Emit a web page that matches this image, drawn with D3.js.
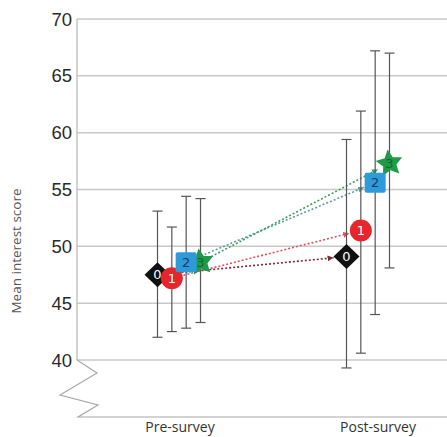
<!DOCTYPE html>
<html>
<head>
<meta charset="utf-8">
<script src="https://cdn.jsdelivr.net/npm/d3@7"></script>
<style>
  body { margin: 0; background: #fff; }
  svg { display: block; }
</style>
</head>
<body>
<div id="chart"></div>
<script>
  // Données
  var surveys = ["Pre-survey", "Post-survey"];
  var groups = ["0", "1", "2", "3"];
  var yTicks = [40, 45, 50, 55, 60, 65, 70];
  // moyennes [pre, post] pour chaque groupe
  var means = [
    [47.5, 49.1],
    [47.2, 51.4],
    [48.6, 55.6],
    [48.6, 57.3]
  ];
  var lows = [
    [42.0, 39.3],
    [42.5, 40.6],
    [42.8, 44.0],
    [43.3, 48.1]
  ];
  var highs = [
    [53.1, 59.4],
    [51.7, 61.9],
    [54.4, 67.2],
    [54.2, 67.0]
  ];

  var width = 447, height = 437;
  var svg = d3.select("#chart").append("svg")
    .attr("width", width).attr("height", height);

  var left = 77;
  var y = d3.scaleLinear().domain([40, 70]).range([360, 19]);
  var x = d3.scalePoint().domain(surveys).range([180, 378]);
  var xOff = d3.scalePoint().domain(groups).range([-21.5, 21.5]);
  var shift = { "Pre-survey": -1, "Post-survey": -10 }; // décalage du groupe de points

  function px(gi, si) { return x(surveys[si]) + shift[surveys[si]] + xOff(groups[gi]); }

  // grille
  svg.append("g").selectAll("line").data(yTicks).enter().append("line")
    .attr("x1", left).attr("x2", width)
    .attr("y1", d => y(d)).attr("y2", d => y(d))
    .attr("stroke", "#c8c8c8").attr("stroke-width", 1.5);

  // axe gauche + zigzag + base
  svg.append("line").attr("x1", left).attr("x2", left)
    .attr("y1", y(70)).attr("y2", y(40))
    .attr("stroke", "#b5b5b5").attr("stroke-width", 1.2);
  svg.append("polyline")
    .attr("points", "77,360 97,373 60,395 98,405 78,417 447,417")
    .attr("fill", "none").attr("stroke", "#a8a8a8").attr("stroke-width", 1.2);

  // graduations
  svg.append("g").selectAll("text").data(yTicks).enter().append("text")
    .attr("x", 72).attr("y", d => y(d)).attr("dy", "0.36em")
    .attr("text-anchor", "end")
    .attr("font-family", "Liberation Sans, Arial, sans-serif")
    .attr("font-size", 18.5).attr("fill", "#2a2a2a")
    .text(d => d);

  svg.append("text")
    .attr("transform", "translate(21,251) rotate(-90)")
    .attr("text-anchor", "middle")
    .attr("font-family", "Open Sans, sans-serif")
    .attr("font-size", 13.5).attr("fill", "#555")
    .text("Mean interest score");

  svg.append("g").selectAll("text").data(surveys).enter().append("text")
    .attr("x", d => x(d)).attr("y", 432)
    .attr("text-anchor", "middle")
    .attr("font-family", "Open Sans, sans-serif")
    .attr("font-size", 14).attr("fill", "#333")
    .text(d => d);

  var lineColors = ["#7e2b2e", "#e2505b", "#5b9c9c", "#3d9f5c"];
  var fills = ["#111111", "#e5262c", "#2e9bd8", "#1f9a48"];
  var txtColors = ["#ffffff", "#ffffff", "#173a68", "#0d6a2c"];
  var radius = [12, 11, 11, 12];

  // flèches
  var defs = svg.append("defs");
  lineColors.forEach(function(c, i) {
    defs.append("marker").attr("id", "arr" + i)
      .attr("viewBox", "0 0 10 10").attr("refX", 10).attr("refY", 5)
      .attr("markerWidth", 6).attr("markerHeight", 6)
      .attr("markerUnits", "userSpaceOnUse")
      .attr("orient", "auto")
      .append("path").attr("d", "M0,0L10,5L0,10z").attr("fill", c);
  });

  // lignes pointillées pre -> post
  svg.append("g").selectAll("line").data(groups).enter().append("line")
    .each(function(d, i) {
      var x1 = px(i, 0), y1 = y(means[i][0]);
      var x2 = px(i, 1), y2 = y(means[i][1]);
      var len = Math.hypot(x2 - x1, y2 - y1);
      var r = radius[i] + 1;
      d3.select(this)
        .attr("x1", x1).attr("y1", y1)
        .attr("x2", x2 - (x2 - x1) / len * r)
        .attr("y2", y2 - (y2 - y1) / len * r);
    })
    .attr("stroke", (d, i) => lineColors[i])
    .attr("stroke-width", 1.6)
    .attr("stroke-dasharray", "2,2")
    .attr("marker-end", (d, i) => "url(#arr" + i + ")");

  // barres d'erreur
  var eb = svg.append("g").attr("stroke", "#555").attr("stroke-width", 1.2);
  groups.forEach(function(g, i) {
    [0, 1].forEach(function(s) {
      var cx = px(i, s);
      eb.append("line").attr("x1", cx).attr("x2", cx)
        .attr("y1", y(lows[i][s])).attr("y2", y(highs[i][s]));
      [lows[i][s], highs[i][s]].forEach(function(v) {
        eb.append("line").attr("x1", cx - 5).attr("x2", cx + 5)
          .attr("y1", y(v)).attr("y2", y(v));
      });
    });
  });

  // étoile à 5 branches un peu plus grasse que d3.symbolStar
  function starPath(ro, ri) {
    var p = [];
    for (var k = 0; k < 10; k++) {
      var a = -Math.PI / 2 + k * Math.PI / 5;
      var r = k % 2 ? ri : ro;
      p.push([r * Math.cos(a), r * Math.sin(a)]);
    }
    return d3.line()(p) + "Z";
  }

  // symboles
  var order = [0, 3, 1, 2];
  var pts = svg.append("g");
  [0, 1].forEach(function(s) {
    order.forEach(function(i) {
      var cx = px(i, s), cy = y(means[i][s]);
      var g = pts.append("g").attr("transform", "translate(" + cx + "," + cy + ")");
      if (i === 0) {
        g.append("path").attr("d", "M-13,0L0,-12.5L13,0L0,12.5z").attr("fill", fills[0]);
      } else if (i === 1) {
        g.append("circle").attr("r", 11).attr("fill", fills[1]);
      } else if (i === 2) {
        g.append("rect").attr("x", -10.5).attr("y", -10).attr("width", 21).attr("height", 20)
          .attr("rx", 2).attr("fill", fills[2]);
      } else {
        g.append("path").attr("d", starPath(14, 7)).attr("fill", fills[3])
          .attr("transform", "rotate(-8)");
      }
      g.append("text").attr("text-anchor", "middle").attr("dy", "0.36em")
        .attr("font-family", "DejaVu Sans, sans-serif")
        .attr("font-size", 13)
        .attr("fill", txtColors[i])
        .text(groups[i]);
    });
  });
</script>
</body>
</html>
